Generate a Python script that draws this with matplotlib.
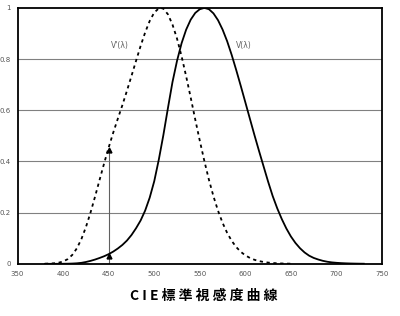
import matplotlib.pyplot as plt

plt.rcParams['font.family'] = ['DejaVu Sans', 'Noto Sans CJK JP']

# CIE 1924 photopic luminous efficiency V(lambda), 5 nm table
wl_photopic = [380, 385, 390, 395, 400, 405, 410, 415, 420, 425, 430, 435, 440,
               445, 450, 455, 460, 465, 470, 475, 480, 485, 490, 495, 500, 505,
               510, 515, 520, 525, 530, 535, 540, 545, 550, 555, 560, 565, 570,
               575, 580, 585, 590, 595, 600, 605, 610, 615, 620, 625, 630, 635,
               640, 645, 650, 655, 660, 665, 670, 675, 680, 685, 690, 695, 700,
               705, 710, 715, 720, 725, 730]
v_photopic = [0.000039, 0.000064, 0.00012, 0.000217, 0.000396, 0.00064,
              0.00121, 0.00218, 0.004, 0.0073, 0.0116, 0.01684, 0.023, 0.0298,
              0.038, 0.048, 0.060, 0.0739, 0.09098, 0.1126, 0.13902, 0.1693,
              0.20802, 0.2586, 0.323, 0.4073, 0.503, 0.6082, 0.710, 0.7932,
              0.862, 0.91485, 0.954, 0.9803, 0.99495, 1.000, 0.995, 0.9786,
              0.952, 0.9154, 0.870, 0.8163, 0.757, 0.6949, 0.631, 0.5668,
              0.503, 0.4412, 0.381, 0.321, 0.265, 0.217, 0.175, 0.1382, 0.107,
              0.0816, 0.061, 0.04458, 0.032, 0.0232, 0.017, 0.01192, 0.00821,
              0.005723, 0.0041, 0.002929, 0.002091, 0.001484, 0.001047,
              0.00074, 0.00052]

# CIE 1951 scotopic luminous efficiency V'(lambda), 5 nm table
wl_scotopic = [380, 385, 390, 395, 400, 405, 410, 415, 420, 425, 430, 435, 440,
               445, 450, 455, 460, 465, 470, 475, 480, 485, 490, 495, 500, 505,
               507, 510, 515, 520, 525, 530, 535, 540, 545, 550, 555, 560, 565,
               570, 575, 580, 585, 590, 595, 600, 605, 610, 615, 620, 625, 630,
               635, 640, 645, 650]
v_scotopic = [0.000589, 0.001108, 0.002209, 0.00453, 0.00929, 0.01852,
              0.03484, 0.0604, 0.0966, 0.1436, 0.1998, 0.2625, 0.3281, 0.3931,
              0.455, 0.513, 0.567, 0.620, 0.676, 0.734, 0.793, 0.851, 0.904,
              0.949, 0.982, 0.998, 1.000, 0.997, 0.975, 0.935, 0.880, 0.811,
              0.733, 0.650, 0.564, 0.481, 0.402, 0.3288, 0.2639, 0.2076,
              0.1602, 0.1212, 0.0899, 0.0655, 0.0469, 0.03315, 0.02312,
              0.01593, 0.01088, 0.00737, 0.00497, 0.003335, 0.002235,
              0.001497, 0.001005, 0.000677]

x_ticks = [350, 400, 450, 500, 550, 600, 650, 700, 750]
y_ticks = [0, 0.2, 0.4, 0.6, 0.8, 1]
y_labels = ['0', '0.2', '0.4', '0.6', '0.8', '1']
marker_wl = 450
marker_low = 0.03
marker_high = 0.445

fig = plt.figure(figsize=(4, 3.16), dpi=100)
ax = fig.add_axes([0.044, 0.165, 0.911, 0.810])

for y in y_ticks[1:-1]:
    ax.axhline(y, color='#808080', lw=0.8, zorder=1)

ax.plot(wl_photopic, v_photopic, color='black', lw=1.3, zorder=3)
ax.plot(wl_scotopic, v_scotopic, color='black', lw=1.3,
        linestyle=(0, (1.8, 2.0)), zorder=3)

# vertical marker line at 450 nm
ax.vlines(marker_wl, 0, marker_high, color='#606060', lw=0.8, zorder=2)
ax.plot([marker_wl, marker_wl], [marker_low, marker_high], linestyle='none',
        marker='^', color='black', markersize=3.5, zorder=4)

ax.text(462, 0.855, "V'(λ)", fontsize=5.5, color='#606060', ha='center', va='center')
ax.text(598, 0.855, "V(λ)", fontsize=5.5, color='#606060', ha='center', va='center')

ax.set_xlim(350, 750)
ax.set_ylim(0, 1)
ax.set_xticks(x_ticks)
ax.set_yticks(y_ticks)
ax.set_yticklabels(y_labels)
ax.tick_params(length=0, labelsize=5, labelcolor='#555555', pad=5)
for s in ax.spines.values():
    s.set_linewidth(1.3)
    s.set_color('black')

fig.text(0.51, 0.063, 'C I E 標 準 視 感 度 曲 線', ha='center', va='center',
         fontsize=10, fontweight='bold', family=['Noto Sans CJK JP', 'DejaVu Sans'])

fig.savefig('out.png', dpi=100)
